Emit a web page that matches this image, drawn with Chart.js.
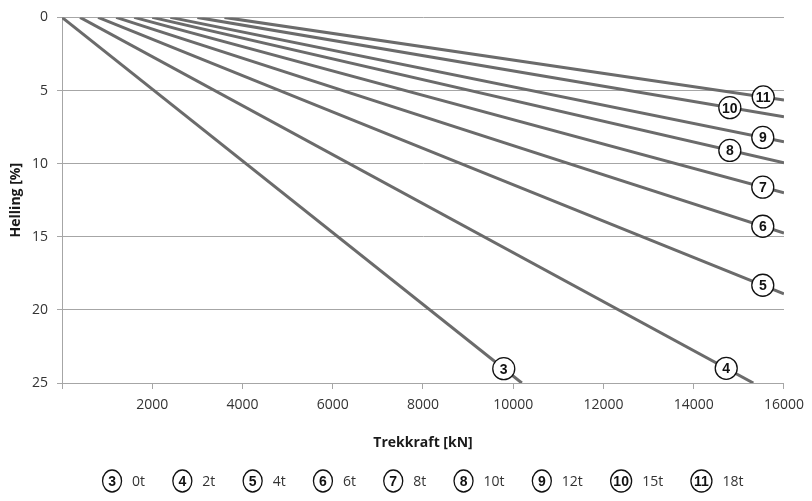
<!DOCTYPE html>
<html>
<head>
<meta charset="utf-8">
<script src="https://cdn.jsdelivr.net/npm/chart.js@4"></script>
<style>
html,body{margin:0;padding:0;background:#fff}
#wrap{width:812px;height:501px;position:relative}
canvas{display:block}
</style>
</head>
<body>
<div id="wrap"><canvas id="c" width="812" height="501"></canvas></div>
<script>
// ---- data ----
const loadLabels   = ['0t','2t','4t','6t','8t','10t','12t','15t','18t'];
const curveNumbers = ['3','4','5','6','7','8','9','10','11'];
const startForce   = [0, 400, 800, 1200, 1600, 2000, 2400, 3000, 3600];
const startGrade   = [0, 0, 0, 0, 0, 0, 0, 0, 0];
const endForce     = [10190, 15320, 16000, 16000, 16000, 16000, 16000, 16000, 16000];
const endGrade     = [25, 25, 18.9, 14.75, 12.0, 9.95, 8.5, 6.8, 5.65];
const markerForce  = [9790, 14720, 15530, 15530, 15530, 14800, 15530, 14800, 15540];
const xTicks = [0, 2000, 4000, 6000, 8000, 10000, 12000, 14000, 16000];
const yTicks = [0, 5, 10, 15, 20, 25];

const FONT = '"Open Sans", "Liberation Sans", sans-serif';
const NUMFONT = '"Liberation Sans", Arial, sans-serif';
const LINE = '#6b6b6b';
const GRID = '#a6a6a6';
const TEXT = '#333333';

Chart.defaults.font.family = FONT;
Chart.defaults.color = TEXT;

const datasets = loadLabels.map((lab, i) => ({
  label: lab,
  data: [
    {x: startForce[i], y: startGrade[i]},
    {x: endForce[i], y: endGrade[i]}
  ],
  showLine: true,
  borderColor: LINE,
  backgroundColor: LINE,
  borderWidth: 3,
  pointRadius: 0,
  pointHoverRadius: 0,
  borderCapStyle: 'butt',
  tension: 0
}));

const markerPlugin = {
  id: 'curveMarkers',
  afterDatasetsDraw(chart) {
    const {ctx, scales: {x, y}} = chart;
    ctx.save();
    curveNumbers.forEach((n, i) => {
      const fx = markerForce[i];
      const t = (fx - startForce[i]) / (endForce[i] - startForce[i]);
      const gy = startGrade[i] + t * (endGrade[i] - startGrade[i]);
      const px = x.getPixelForValue(fx);
      const py = y.getPixelForValue(gy);
      ctx.beginPath();
      ctx.arc(px, py, 11, 0, Math.PI * 2);
      ctx.fillStyle = '#fff';
      ctx.fill();
      ctx.lineWidth = 1.3;
      ctx.strokeStyle = '#111';
      ctx.stroke();
      ctx.fillStyle = '#111';
      ctx.font = 'bold 14px ' + NUMFONT;
      ctx.textAlign = 'center';
      ctx.textBaseline = 'middle';
      ctx.fillText(n, px, py + 1);
    });
    ctx.restore();
  }
};

const legendPlugin = {
  id: 'circleLegend',
  afterDraw(chart) {
    const {ctx, chartArea} = chart;
    ctx.save();
    const txtFont = '14px ' + FONT;
    ctx.font = txtFont;
    const textGap = 10.5, edgeGap = 27.8;
    const items = [];
    let cx = 0;
    loadLabels.forEach((lab, i) => {
      const rx = curveNumbers[i].length > 1 ? 10.5 : 9.5;
      const w = ctx.measureText(lab).width;
      if (i > 0) cx += rx;
      items.push({cx, rx, w});
      cx += rx + textGap + w + edgeGap;
    });
    const first = items[0], last = items[items.length - 1];
    const spanStart = first.cx - first.rx;
    const spanEnd = last.cx + last.rx + textGap + last.w;
    const mid = (chartArea.left + chartArea.right) / 2;
    const off = mid - (spanStart + spanEnd) / 2;
    const cy = 481;
    items.forEach((it, i) => {
      const x0 = it.cx + off;
      ctx.beginPath();
      ctx.ellipse(x0, cy, it.rx, 11, 0, 0, Math.PI * 2);
      ctx.fillStyle = '#fff';
      ctx.fill();
      ctx.lineWidth = 1.3;
      ctx.strokeStyle = '#111';
      ctx.stroke();
      ctx.fillStyle = '#111';
      ctx.font = 'bold 14px ' + NUMFONT;
      ctx.textAlign = 'center';
      ctx.textBaseline = 'middle';
      ctx.fillText(curveNumbers[i], x0, cy + 1);
      ctx.font = txtFont;
      ctx.textAlign = 'left';
      ctx.fillStyle = TEXT;
      ctx.fillText(loadLabels[i], x0 + it.rx + textGap, cy + 1);
    });
    ctx.restore();
  }
};

new Chart(document.getElementById('c'), {
  type: 'scatter',
  data: {datasets},
  plugins: [markerPlugin, legendPlugin],
  options: {
    responsive: false,
    devicePixelRatio: 1,
    animation: false,
    layout: {padding: {top: 13, right: 28, bottom: 50, left: 0}},
    plugins: {legend: {display: false}, tooltip: {enabled: false}},
    scales: {
      x: {
        type: 'linear',
        min: 0, max: 16000,
        afterBuildTicks: s => { s.ticks = xTicks.map(v => ({value: v})); },
        afterFit: s => { s.height = 68; },
        ticks: {
          padding: 8,
          font: {size: 14},
          color: TEXT,
          maxRotation: 0,
          callback: v => v === 0 ? '' : String(v)
        },
        grid: {drawOnChartArea: false, drawTicks: true, tickLength: 6, color: GRID},
        border: {display: true, color: GRID, width: 1},
        title: {display: true, text: 'Trekkraft [kN]', color: '#1a1a1a',
                font: {size: 14, weight: 'bold'}, padding: {top: 0, bottom: 0}}
      },
      y: {
        type: 'linear',
        reverse: true,
        min: 0, max: 25,
        afterBuildTicks: s => { s.ticks = yTicks.map(v => ({value: v})); },
        afterFit: s => { s.width = 62; },
        ticks: {padding: 9, font: {size: 14}, color: TEXT},
        grid: {color: GRID, tickLength: 5, drawTicks: true},
        border: {display: true, color: GRID, width: 1},
        title: {display: true, text: 'Helling [%]', color: '#1a1a1a',
                font: {size: 14, weight: 'bold'}, padding: {top: 8, bottom: 0}}
      }
    }
  }
});
</script>
</body>
</html>
